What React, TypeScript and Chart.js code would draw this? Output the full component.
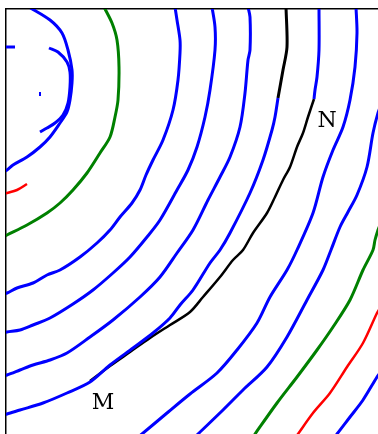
import React, { useEffect, useRef } from "react";
import { Chart, registerables } from "chart.js";

Chart.register(...registerables);

type P = [number, number];

// Curves (x to the right, y downward from the top-left corner of the frame)
const circleA: P[] = [[23,-2],[44,11],[56,24],[62,41],[66,61],[66,74],[64,91],[61,103],[54,114],[44,128],[34,138],[21,148],[7,156],[1,161],[-3,163]];
const arcB: P[] = [[43,39],[52,43],[61,53],[64,63],[64,78],[62,94],[57,106],[49,114],[41,119],[34,123]];
const stubS: P[] = [[-2,38],[9,38]];
const dotD: P[] = [[34,83],[34,87]];
const redShort: P[] = [[-3,185],[1,184],[11,181],[21,175]];
const greenInner: P[] = [[98,-2],[106,14],[111,31],[113,58],[112,91],[109,108],[104,128],[94,144],[81,164],[67,181],[54,194],[41,204],[21,216],[1,226],[-3,228]];
const circleC: P[] = [[169,-2],[171,11],[174,31],[174,44],[172,71],[167,101],[157,131],[147,151],[140,166],[134,181],[126,194],[114,208],[104,221],[91,234],[74,248],[54,261],[41,266],[27,274],[11,279],[1,284],[-3,285]];
const circleD: P[] = [[206,-2],[209,18],[209,41],[204,81],[199,108],[191,138],[182,161],[171,181],[154,211],[141,228],[124,248],[107,264],[87,281],[67,295],[44,309],[27,316],[14,321],[1,323],[-3,324]];
const circleE: P[] = [[242,-2],[244,8],[244,41],[242,51],[239,84],[234,118],[224,148],[214,168],[202,191],[187,221],[171,244],[154,268],[134,288],[107,311],[84,328],[61,344],[44,351],[27,356],[14,361],[1,366],[-3,367]];
const blackTop: P[] = [[280,-2],[281,38],[277,61],[272,89]];
const circleF: P[] = [[272,89],[269,108],[266,121],[257,151],[244,184],[224,224],[214,241],[204,254],[187,281],[174,296],[164,309],[147,324],[127,339],[104,356],[84,373],[61,384],[37,394],[14,401],[1,405],[-3,406]];
const blackNM: P[] = [[308,90],[302,108],[297,124],[291,138],[284,158],[277,171],[269,188],[261,204],[247,224],[237,241],[227,251],[214,268],[197,288],[184,303],[164,316],[144,329],[124,343],[104,357],[84,372]];
const circleG: P[] = [[313,-2],[313,41],[311,68],[309,81],[308,90]];
const circleH: P[] = [[350,-2],[351,24],[349,58],[344,91],[337,118],[327,141],[317,168],[307,204],[291,241],[281,261],[264,288],[251,314],[231,341],[211,364],[184,385],[161,404],[136,425],[132,428]];
const circleI: P[] = [[375,96],[372,104],[367,124],[361,158],[351,186],[342,203],[334,218],[325,241],[317,261],[301,291],[281,328],[261,358],[237,381],[217,401],[192,425],[189,428]];
const greenOuter: P[] = [[374,216],[372,221],[369,231],[367,241],[357,261],[344,291],[327,318],[311,341],[291,368],[271,394],[249,425],[247,428]];
const redOuter: P[] = [[374,299],[371,304],[357,334],[341,358],[324,384],[307,404],[292,425],[290,428]];
const circleJ: P[] = [[374,364],[371,368],[357,391],[344,408],[331,425],[329,428]];

const pointLabels: { text: string; at: P }[] = [
  { text: "N", at: [321, 112] },
  { text: "M", at: [97, 394] },
];

const BLUE = "#0000ff";
const GREEN = "#008000";
const RED = "#ff0000";
const BLACK = "#000000";

const curves: { pts: P[]; color: string; width: number }[] = [
  { pts: circleA, color: BLUE, width: 3 },
  { pts: arcB, color: BLUE, width: 3 },
  { pts: stubS, color: BLUE, width: 3 },
  { pts: dotD, color: BLUE, width: 2 },
  { pts: redShort, color: RED, width: 2.5 },
  { pts: greenInner, color: GREEN, width: 3 },
  { pts: circleC, color: BLUE, width: 3 },
  { pts: circleD, color: BLUE, width: 3 },
  { pts: circleE, color: BLUE, width: 3 },
  { pts: circleF, color: BLUE, width: 3 },
  { pts: circleG, color: BLUE, width: 3 },
  { pts: circleH, color: BLUE, width: 3 },
  { pts: circleI, color: BLUE, width: 3 },
  { pts: greenOuter, color: GREEN, width: 3 },
  { pts: redOuter, color: RED, width: 2.5 },
  { pts: circleJ, color: BLUE, width: 3 },
  { pts: blackTop, color: BLACK, width: 3 },
  { pts: blackNM, color: BLACK, width: 2.5 },
];

const labelPlugin = {
  id: "pointLabels",
  afterDatasetsDraw(chart: any) {
    const { ctx, scales } = chart;
    ctx.save();
    ctx.fillStyle = "#000";
    ctx.font = '22px "DejaVu Serif"';
    ctx.textAlign = "center";
    ctx.textBaseline = "middle";
    for (const l of pointLabels) {
      ctx.fillText(l.text, scales.x.getPixelForValue(l.at[0]), scales.y.getPixelForValue(l.at[1]));
    }
    ctx.restore();
  },
};

export default function App() {
  const ref = useRef<HTMLCanvasElement>(null);
  useEffect(() => {
    const chart = new Chart(ref.current!, {
      type: "line",
      data: {
        datasets: curves.map((c) => ({
          data: c.pts.map(([x, y]) => ({ x, y })),
          borderColor: c.color,
          borderWidth: c.width,
          pointRadius: 0,
          tension: 0.3,
          fill: false,
        })),
      },
      options: {
        responsive: false,
        animation: false,
        layout: { padding: { left: 6, top: 9, right: 0, bottom: 0 } },
        plugins: { legend: { display: false }, tooltip: { enabled: false } },
        scales: {
          x: {
            type: "linear",
            position: "top",
            min: 0,
            max: 372,
            grid: { display: false, drawTicks: false },
            ticks: { display: false },
            border: { display: true, color: "#000", width: 1.5 },
          },
          y: {
            type: "linear",
            reverse: true,
            min: 0,
            max: 425,
            grid: { display: false, drawTicks: false },
            ticks: { display: false },
            border: { display: true, color: "#000", width: 1.5 },
          },
        },
      },
      plugins: [labelPlugin],
    });
    return () => chart.destroy();
  }, []);
  return (
    <div style={{ position: "fixed", left: 0, top: 0, width: 378, height: 434 }}>
      <canvas ref={ref} width={378} height={434} style={{ display: "block" }} />
    </div>
  );
}
